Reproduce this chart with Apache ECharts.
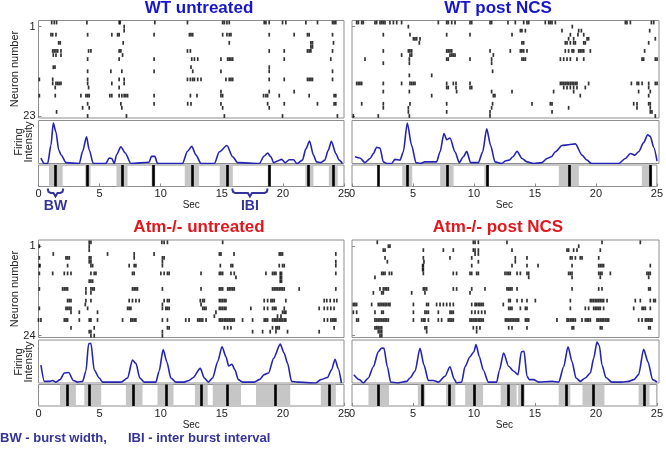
<!DOCTYPE html>
<html><head><meta charset="utf-8">
<script src="https://cdn.jsdelivr.net/npm/echarts@6/dist/echarts.min.js"></script>
<style>html,body{margin:0;padding:0;background:#fff}#c{width:666px;height:449px}</style>
</head><body><div id="c"></div>
<script>
// ---------- Data ----------
const xTicks = [0, 5, 10, 15, 20, 25];
const titles = ['WT untreated', 'WT post NCS', 'Atm-/- untreated', 'Atm-/- post NCS'];
const neuronCounts = [23, 23, 24, 24];

// raster: [neuron row, [spike times (s)]]
const wtU_spikes = [
 [0,[1.08,1.29,1.48,3.96,6.6,6.69,9.52,12.19,15.07,15.21,15.42,15.61,18.47,18.61,18.88,19.97,20.24,21.88,22.83,24.06,24.19,24.33]],
 [1,[7.01]],[2,[7.01]],
 [3,[1.02,1.16,1.43,4.02,6.0,6.47,6.6,9.46,12.35,12.48,12.62,15.07,15.42,15.61,15.75,18.88,20.92,22.01,22.15,24.06]],
 [5,[1.65,1.78,6.93,15.61,22.29,22.42,24.14]],
 [6,[22.29,22.42]],
 [7,[1.16,1.29,1.43,1.57,1.84,4.1,4.29,6.6,6.74,12.19,12.43,18.88,20.11,22.01,22.15,22.29,24.06]],
 [8,[1.21,1.43,1.84,6.88]],
 [9,[4.02,6.6,9.46,12.54,12.76,13.03,14.93,15.48,15.61,15.75,15.89,20.11,23.92]],
 [11,[1.21,1.35,12.48,18.88]],
 [12,[4.02,5.92,6.82,9.46,12.62,14.93,18.88,24.06]],
 [14,[0.07,1.16,4.02,6.6,7.01,12.19,12.43,12.62,12.76,13.03,13.3,15.34,15.61,15.75,15.89,18.88,20.11,22.01,22.15,22.29,22.42,24.06]],
 [15,[1.16,1.43,1.57,1.7,1.84,4.02,6.0,7.01]],
 [16,[1.37,4.1,6.6]],
 [17,[14.93,18.88,20.92]],
 [18,[0.07,1.37,3.47,3.88,4.02,4.15,5.84,6.0,6.6,6.82,7.01,7.15,7.29,9.46,12.43,12.97,14.93,15.07,18.42,18.61,18.75,19.7,22.15,24.19,24.33]],
 [20,[4.02,6.74,9.46,12.21,12.48,14.93,18.75,20.11,22.83,24.19,24.33]],
 [21,[3.61,4.15,6.82,15.07,18.88]],
 [22,[1.48]],
 [23,[4.02,7.2,15.21,19.97,24.46]]
];
const wtN_spikes = [
 [0,[0.38,0.52,0.79,0.92,1.87,2.01,2.28,2.42,2.55,2.69,3.09,3.37,3.64,4.04,7.03,7.71,7.84,8.12,8.39,9.61,9.75,11.24,11.37,12.7,13.3,13.98,14.25,14.39,15.74,16.02,16.15,16.29,16.56,22.26,22.39,22.67,24.38,24.57]],
 [1,[4.59,17.94]],
 [2,[13.71,13.84,14.12,17.1,18.46,18.68,24.24]],
 [3,[2.55,4.72,7.71,9.61,13.03,17.78,18.4,18.87]],
 [4,[5.0,5.13,5.27,5.54,17.64,18.05,19.14,19.27,24.7]],
 [5,[5.48,13.84,13.98,17.37,17.51,17.78,18.05,18.19,18.87,19.0,24.16]],
 [7,[2.55,4.59,4.72,4.86,7.71,7.84,7.98,8.12,11.24,12.89,13.71,13.84,13.98,14.25,17.37,17.64,17.92,18.05,18.46,18.59,18.73,18.87,19.41,23.83]],
 [8,[4.04,4.72,4.86,7.98,8.12,8.25,8.39,11.51]],
 [9,[1.06,4.67,7.71,7.84,9.61,11.37,13.84,13.98,14.12,16.97,17.24,17.51,17.78,18.32,18.87,23.62,23.75,24.7,24.84]],
 [10,[2.55,4.67,11.37]],
 [12,[11.45]],
 [13,[4.67,6.49]],
 [15,[0.38,0.52,0.65,0.79,2.55,4.04,4.72,4.86,5.0,5.13,7.71,8.25,8.47,9.61,16.97,17.1,17.24,17.37,17.51,17.64,17.78,17.92,18.05,18.19,18.32,19.27,22.75,23.21,23.34,23.62,24.16,24.7,24.84]],
 [16,[7.71,7.84,8.47,9.61,9.75,17.24,17.51,17.78,18.05,18.32,19.0,24.16]],
 [17,[2.55,4.67,8.52,11.37,13.03,16.42,18.05,23.34,24.29]],
 [18,[6.49,11.51,11.64,18.59,24.16]],
 [20,[0.79,2.55,4.72,7.71,11.45,14.66,16.15,16.29,22.94,23.21,24.16,24.29]],
 [21,[2.55,4.59,11.37,17.64,23.21,24.29]],
 [22,[4.59,7.71,11.24,16.29,24.29,24.43]],
 [23,[0.11,2.14,4.67,11.24,24.7]]
];
const atU_spikes = [
 [0,[4.15,4.29,10.09,10.28,10.55,15.07]],
 [1,[0.07,4.15]],[2,[4.15]],
 [3,[1.21,5.65,7.83,9.46,14.8,14.93,16.0,19.7,19.84,19.97,24.33]],
 [4,[0.07,2.25,2.38,2.52,4.15,4.29,7.83,10.14,10.28]],
 [5,[4.15,4.29,10.14,24.33]],
 [6,[0.07,0.12,2.38,4.29,4.43,7.42,7.83,7.97,10.14,14.88,15.75,15.89,19.7,19.97,20.11,24.33]],
 [8,[0.07,1.16,2.11,2.38,2.66,4.29,4.56,4.7,7.69,7.83,10.01,10.28,10.55,10.69,13.3,14.8,14.93,15.07,15.75,16.02,18.61,19.15,19.29,19.43,19.78,19.89,24.33]],
 [9,[16.16,19.78,19.89]],
 [10,[4.15,4.29,4.43,19.78,19.89]],
 [12,[0.07,1.97,2.11,2.25,2.38,3.88,4.29,4.43,4.56,7.69,7.83,7.97,8.1,10.14,13.3,14.8,14.93,15.07,15.48,15.61,15.75,15.89,16.02,19.15,19.29,19.43,19.56,19.7,19.84,19.97,20.11,21.33,24.33]],
 [13,[3.88,4.29]],
 [15,[2.38,2.52,2.66,3.88,4.29,7.42,7.69,7.97,8.24,10.28,10.55,10.69,13.24,13.44,13.57,14.8,14.93,15.07,15.21,15.34,18.47,18.75,19.02,19.15,19.29,20.24,23.38,23.59,23.87,24.19,24.41]],
 [16,[3.83,10.14,13.3]],
 [17,[0.07,2.25,2.38,2.52,2.66,4.02,7.29,7.42,7.56,10.14,10.42,10.55,10.69,13.44,13.57,13.71,14.8,14.93,15.07,15.21,15.34,17.38,18.47,18.75,19.15,19.29,19.43,20.11,22.97,23.38,23.65,23.92,24.19]],
 [18,[2.66,3.34,4.83,14.52,19.97,20.11,20.24]],
 [19,[14.39,19.56,19.84]],
 [20,[0.0,0.2,2.11,2.25,2.38,3.34,4.15,4.29,4.83,6.88,7.56,7.69,7.83,7.97,10.14,10.55,12.05,12.32,13.03,13.16,13.3,13.44,13.71,14.8,14.93,15.07,15.21,15.34,15.48,15.61,15.75,15.89,16.02,16.7,17.52,18.47,18.61,18.75,19.15,19.29,19.43,19.56,19.7,19.84,19.97,20.11,20.24,23.38,23.65,23.92,24.06,24.19,24.33]],
 [22,[2.66,4.56,10.55,10.69,15.21,15.48,15.75,19.15,19.43,19.56,19.7,24.19]],
 [23,[4.15,4.29,10.14,17.52,18.34,18.96,19.43,20.38,22.97]],
 [24,[4.29,4.56,10.14]]
];
const atN_spikes = [
 [0,[2.06,9.88,10.02,10.29,12.62,20.36,23.48]],
 [1,[2.96,3.09,18.46]],
 [2,[2.55,2.69,5.81,7.44,8.25,9.88,10.02,10.29,13.03,17.51,17.64,18.05,18.32,20.22]],
 [3,[10.02,10.29]],
 [4,[2.69,5.81,7.98,9.75,13.3,14.25,17.78,17.92,18.19,18.59,18.73,20.09]],
 [5,[2.88,5.86,10.29,13.3]],
 [6,[5.75,5.81,9.75,13.03,14.25,15.15,17.92,20.09,20.22,20.36,20.49,24.29]],
 [7,[5.75,5.81]],
 [8,[2.42,2.55,2.69,3.04,3.23,5.81,8.25,8.52,9.61,9.75,10.15,10.29,12.46,12.62,12.76,12.89,13.44,13.71,14.25,14.39,17.64,17.78,17.92,20.09,20.22,20.36,21.04,24.02,24.16,24.29]],
 [9,[1.87,14.39,17.92,20.22,24.16]],
 [12,[2.28,2.55,2.69,2.82,2.96,5.81,5.94,6.08,8.25,8.52,9.75,10.83,12.62,12.76,12.89,13.03,13.44,17.92,20.09,20.36,24.16,24.29]],
 [13,[1.74,2.42,2.55,4.86,5.94,9.61]],
 [15,[12.76,12.89,13.44,13.84,14.25,14.93,17.78,19.41,19.54,19.68,19.82,19.95,20.09,20.22,20.36,20.49,20.77,23.07,23.48,24.29,24.57,24.7]],
 [16,[0.11,0.24,0.38,1.6,2.14,2.28,2.42,2.55,2.69,2.82,2.96,3.09,5.0,6.08,6.22,6.89,7.17,7.44,7.71,7.98,8.25,9.75,10.02,10.15,10.29,10.42,10.56,10.69,12.32]],
 [17,[12.76,12.89,13.03,13.71,14.12,14.25,17.78,19.0,19.27,19.68,19.82,19.95,20.09,20.22,20.49,22.94,23.62,23.75,23.89,24.29]],
 [18,[0.11,0.38,1.87,2.42,2.55,5.0,5.94,6.08,6.22,7.03,7.98,8.12,8.25,9.75,10.02,10.29,10.56,10.83]],
 [20,[0.38,0.52,1.87,2.01,2.14,2.28,2.42,2.55,2.69,2.82,2.96,5.0,5.67,5.81,5.94,6.22,7.03,7.3,7.84,7.98,8.12,8.25,9.61,9.75,9.88,10.02,10.15,10.29,10.42,10.56,10.69,12.49,12.62,12.76,12.89,13.03,13.17,13.3,13.44,13.57,14.12,14.25,14.39,16.69,17.51,17.64,17.78,17.92,18.05,18.19,18.73,19.0,19.14,19.27,19.41,19.95,20.09,20.22,20.36,20.49,20.63,20.77,20.9,23.34,23.62,23.89,24.02,24.16,24.29,24.43]],
 [22,[1.87,2.01,2.14,2.28,2.42,5.94,6.08,9.88,10.15,10.42,12.76,13.03,14.25,17.92,18.05,20.22,20.36,24.16,24.29]],
 [23,[2.14,2.28,2.42,6.08,10.15]],
 [24,[2.28,2.42]]
];

// firing intensity: [time, relative intensity]
const wtU_fire = [[0.2,0.13],[0.48,0],[0.75,0],[1.02,0.44],[1.21,0.97],[1.43,0.75],[1.65,0.33],[1.84,0.21],[2.25,0.02],[3.34,0],[3.61,0.29],[3.93,0.64],[4.15,0.33],[4.48,0],[5.5,0],[5.79,0.13],[6.0,0.12],[6.2,0],[6.39,0.21],[6.74,0.4],[7.1,0.25],[7.56,0],[9.05,0.03],[9.25,0.17],[9.52,0.17],[9.74,0],[11.78,0],[12.19,0.29],[12.54,0.41],[12.89,0.2],[13.3,0],[14.39,0],[14.8,0.28],[15.42,0.43],[15.89,0.16],[16.3,0.02],[18.07,0],[18.47,0.18],[18.75,0.25],[19.02,0.16],[19.24,0.02],[19.56,0.06],[19.89,0.1],[20.19,0.02],[20.52,0.09],[20.87,0.09],[21.14,0],[21.6,0.08],[21.88,0.35],[22.18,0.54],[22.5,0.2],[22.75,0.04],[23.1,0.02],[23.43,0.08],[23.7,0.31],[23.97,0.53],[24.33,0.24],[24.6,0.08],[24.87,0]];
const wtN_fire = [[0.24,0.16],[0.65,0.13],[1.06,0.02],[1.47,0.12],[1.74,0.24],[2.01,0.39],[2.28,0.37],[2.55,0.04],[2.82,0],[3.23,0],[3.5,0.1],[3.91,0.08],[4.18,0.28],[4.5,0.97],[4.86,0.43],[5.21,0.02],[5.54,0],[5.94,0.04],[6.89,0.04],[7.17,0.28],[7.49,0.72],[7.71,0.57],[7.98,0.61],[8.39,0.28],[8.74,0.02],[9.07,0.16],[9.34,0.29],[9.66,0.02],[10.29,0.02],[10.64,0.28],[10.97,0.83],[11.29,0.43],[11.64,0.04],[12.2,0],[12.49,0.06],[12.8,0.08],[13.1,0.16],[13.44,0.29],[13.84,0.12],[14.25,0.04],[14.79,0],[15.47,0.02],[15.88,0.12],[16.23,0.16],[16.56,0.28],[17.1,0.43],[17.64,0.45],[18.19,0.47],[18.73,0.2],[19.14,0.08],[19.49,0],[21.72,0],[22.26,0.12],[22.67,0.24],[23.02,0.2],[23.34,0.28],[23.75,0.5],[24.08,0.69],[24.29,0.65],[24.57,0.39],[24.84,0.06]];
const atU_fire = [[0.2,0.43],[0.48,0.04],[0.9,0.04],[1.16,0.06],[1.43,0.02],[1.76,0.08],[2.11,0.24],[2.47,0.25],[2.85,0.06],[3.2,0.02],[3.61,0.04],[3.88,0.28],[4.1,0.94],[4.29,0.95],[4.56,0.31],[4.97,0.12],[5.24,0.02],[6.74,0.02],[7.29,0.12],[7.69,0.55],[7.97,0.47],[8.29,0.12],[8.65,0.02],[9.6,0.02],[9.87,0.28],[10.2,0.8],[10.5,0.51],[10.83,0.12],[11.23,0.02],[11.91,0.02],[12.32,0.06],[12.62,0.12],[13.24,0.35],[13.57,0.12],[13.9,0.02],[14.25,0.12],[14.66,0.51],[15.02,0.87],[15.34,0.63],[15.56,0.41],[15.83,0.45],[16.08,0.31],[16.35,0.08],[16.7,0.02],[17.66,0.02],[18.07,0.08],[18.47,0.2],[18.83,0.24],[19.24,0.59],[19.78,0.93],[20.11,0.71],[20.38,0.47],[20.71,0.04],[21.2,0.02],[22.69,0],[23.1,0.08],[23.65,0.13],[23.97,0.31],[24.27,0.57],[24.52,0.35],[24.79,0]];
const atN_fire = [[0.15,0.2],[0.6,0.08],[0.92,0],[1.33,0.12],[1.74,0.39],[2.14,0.75],[2.42,0.84],[2.6,0.83],[2.88,0.39],[3.15,0.02],[3.64,0],[4.45,0.04],[4.72,0.12],[5.13,0.28],[5.54,0.83],[5.86,0.43],[6.22,0.06],[6.62,0.06],[7.03,0.02],[7.57,0.16],[7.98,0.39],[8.31,0.1],[8.52,0],[8.93,0.02],[9.2,0.39],[9.61,0.63],[9.93,0.75],[10.1,0.92],[10.37,0.63],[10.69,0.31],[11.1,0.02],[11.78,0.02],[12.0,0.3],[12.35,0.72],[12.75,0.4],[13.17,0.28],[13.52,0.2],[13.79,0.75],[14.01,0.76],[14.25,0.16],[14.44,0.08],[14.79,0.08],[15.2,0.02],[16.29,0.04],[16.83,0.02],[17.24,0.39],[17.59,0.87],[17.92,0.51],[18.24,0.12],[18.59,0.04],[19.0,0.12],[19.41,0.24],[19.68,0.59],[19.95,0.98],[20.14,0.9],[20.36,0.43],[20.68,0.13],[21.17,0.02],[21.99,0.02],[22.53,0.04],[22.94,0.08],[23.34,0.2],[23.75,0.81],[24.1,0.51],[24.48,0.08],[24.84,0.02]];

// bursts: [start, end] (burst width) and burst peak times
const wtU_bursts = [[0.86,1.98],[3.8,4.26],[6.38,7.29],[9.25,9.55],[11.97,13.14],[14.83,15.9],[18.75,18.98],[21.83,22.5],[23.76,24.48]];
const wtU_peaks = [1.38,4.02,6.83,9.38,12.62,15.42,18.88,22.1,24.1];
const wtN_bursts = [[4.12,4.94],[7.23,8.33],[10.85,11.22],[16.96,18.6],[23.77,24.62]];
const wtN_peaks = [2.17,4.56,7.81,11.07,17.8,24.42];
const atU_bursts = [[1.76,3.06],[3.75,5.13],[7.15,8.51],[9.74,11.05],[12.8,13.85],[14.26,16.57],[17.8,20.6],[23.1,24.33]];
const atU_peaks = [2.38,4.15,7.72,10.45,13.34,15.42,19.38,23.8];
const atN_bursts = [[1.35,3.03],[5.4,6.0],[7.71,8.47],[9.28,10.75],[12.19,13.5],[13.63,14.17],[16.95,17.9],[18.9,20.7],[23.5,24.4]];
const atN_peaks = [2.16,5.75,7.96,10.01,12.78,13.99,17.6,19.8,23.95];

// annotation brackets (seconds)
const bwRange = [0.75, 2.03];
const ibiRange = [15.85, 18.75];

// ---------- Chart ----------
const FONT = "'Liberation Sans', Arial, sans-serif";
const BLUE = '#1616cc', RED = '#e2171d', LINEC = '#2424b4', NOTE = '#34349b';
const panels = [
  {spikes: wtU_spikes, fire: wtU_fire, bursts: wtU_bursts, peaks: wtU_peaks, yMin: -0.5, yMax: 23.5, left: 38.5, width: 305.5, top: 20.5, tcol: BLUE, tx: 199, ty: 8, labels: true},
  {spikes: wtN_spikes, fire: wtN_fire, bursts: wtN_bursts, peaks: wtN_peaks, yMin: -0.5, yMax: 23.5, left: 352, width: 307, top: 20.5, tcol: BLUE, tx: 498, ty: 8, labels: false},
  {spikes: atU_spikes, fire: atU_fire, bursts: atU_bursts, peaks: atU_peaks, yMin: -0.6, yMax: 24.5, left: 38.5, width: 305.5, top: 240, tcol: RED, tx: 199, ty: 227, labels: true},
  {spikes: atN_spikes, fire: atN_fire, bursts: atN_bursts, peaks: atN_peaks, yMin: -0.6, yMax: 24.5, left: 352, width: 307, top: 240, tcol: RED, tx: 498, ty: 227, labels: false}
];

const grid = [], xAxis = [], yAxis = [], series = [], graphic = [];
const gBase = {show: true, borderColor: '#8e8e8e', borderWidth: 1, backgroundColor: '#fff'};

panels.forEach((p, i) => {
  const g0 = 3 * i;
  grid.push(Object.assign({left: p.left, top: p.top, width: p.width, height: 97.5}, gBase));
  grid.push(Object.assign({left: p.left, top: p.top + 100, width: p.width, height: 43}, gBase));
  grid.push(Object.assign({left: p.left, top: p.top + 144.5, width: p.width, height: 21.5}, gBase));
  for (let k = 0; k < 3; k++) {
    const band = k === 2;
    xAxis.push({
      gridIndex: g0 + k, type: 'value', min: xTicks[0], max: xTicks[xTicks.length - 1], interval: 5,
      axisLine: {show: false}, splitLine: {show: false},
      axisTick: {show: band, inside: true, length: 3, lineStyle: {color: '#888'}},
      axisLabel: {show: band, fontSize: 11, color: '#222', margin: 2, fontFamily: FONT},
      name: band ? 'Sec' : '', nameLocation: 'middle', nameGap: 12.5,
      nameTextStyle: {fontSize: 10, color: '#222', fontFamily: FONT}
    });
  }
  const nLast = neuronCounts[i];
  yAxis.push({
    gridIndex: g0, type: 'value', inverse: true, min: p.yMin, max: p.yMax,
    axisLine: {show: false}, splitLine: {show: false},
    axisTick: {show: true, inside: true, length: 3, customValues: [1, nLast], lineStyle: {color: '#888'}},
    axisLabel: {show: p.labels, customValues: [1, nLast], fontSize: 11, color: '#222', margin: 3, fontFamily: FONT}
  });
  yAxis.push({gridIndex: g0 + 1, type: 'value', min: 0, max: 1.03, show: false, splitLine: {show: false}});
  yAxis.push({gridIndex: g0 + 2, type: 'value', min: 0, max: 1, show: false, splitLine: {show: false}});

  const pts = [];
  p.spikes.forEach(([n, ts]) => ts.forEach(t => pts.push([t, n])));
  series.push({
    type: 'scatter', xAxisIndex: g0, yAxisIndex: g0, data: pts, symbol: 'rect',
    symbolSize: [1.7, 3.8], itemStyle: {color: '#000'}, silent: true, animation: false
  });
  series.push({
    type: 'line', xAxisIndex: g0 + 1, yAxisIndex: g0 + 1, data: p.fire, showSymbol: false,
    smooth: 0.25, smoothMonotone: 'x', lineStyle: {color: LINEC, width: 1.6}, silent: true, animation: false
  });
  series.push({
    type: 'line', xAxisIndex: g0 + 2, yAxisIndex: g0 + 2, data: [[-5, -5]], showSymbol: false,
    lineStyle: {opacity: 0}, silent: true, animation: false,
    markArea: {silent: true, itemStyle: {color: '#c6c6c6'},
      data: p.bursts.map(([a, b]) => [{xAxis: a}, {xAxis: b}])},
    markLine: {silent: true, symbol: ['none', 'none'], label: {show: false},
      lineStyle: {color: '#000', width: 2.6, type: 'solid'},
      data: p.peaks.map(t => ({xAxis: t}))}
  });

  graphic.push({type: 'text', x: p.tx, y: p.ty, style: {text: titles[i], fill: p.tcol,
    font: "bold 17px " + FONT, textAlign: 'center', textVerticalAlign: 'middle'}});
});

// axis titles
[[69], [289]].forEach(([cy]) => {
  graphic.push({type: 'text', x: 15, y: cy, rotation: Math.PI / 2, style: {text: 'Neuron number', fill: '#222',
    font: "11px " + FONT, textAlign: 'center', textVerticalAlign: 'middle'}});
  graphic.push({type: 'text', x: 24, y: cy + 73, rotation: Math.PI / 2, style: {text: 'Firing\nIntensity', fill: '#222',
    font: "11px " + FONT, textAlign: 'center', textVerticalAlign: 'middle', lineHeight: 10}});
});

graphic.push({type: 'text', x: 0, y: 438, style: {text: 'BW - burst width,', fill: NOTE,
  font: "bold 13px " + FONT, textAlign: 'left', textVerticalAlign: 'middle'}});
graphic.push({type: 'text', x: 128, y: 438, style: {text: 'IBI - inter burst interval', fill: NOTE,
  font: "bold 13px " + FONT, textAlign: 'left', textVerticalAlign: 'middle'}});

const chart = echarts.init(document.getElementById('c'), null, {renderer: 'canvas'});
chart.setOption({animation: false, backgroundColor: '#fff', grid, xAxis, yAxis, series, graphic});

// brackets for BW / IBI under the first panel
function brace(range, label) {
  const x1 = chart.convertToPixel({xAxisIndex: 2}, range[0]);
  const x2 = chart.convertToPixel({xAxisIndex: 2}, range[1]);
  const xm = (x1 + x2) / 2, y0 = 188.5, y1 = 193, y2 = 196.5;
  return [
    {type: 'polyline', shape: {points: [[x1, y0], [x1 + 0.8, y1 - 1.2], [x1 + 3, y1], [xm - 2, y1], [xm, y2], [xm + 2, y1], [x2 - 3, y1], [x2 - 0.8, y1 - 1.2], [x2, y0]]},
      style: {stroke: NOTE, lineWidth: 2, fill: null}},
    {type: 'text', x: xm, y: 206, style: {text: label, fill: NOTE, font: "bold 14px " + FONT,
      textAlign: 'center', textVerticalAlign: 'middle'}}
  ];
}
const extra = brace(bwRange, 'BW').concat(brace(ibiRange, 'IBI'));
chart.setOption({graphic: graphic.concat(extra)}, {replaceMerge: ['graphic']});
</script></body></html>
